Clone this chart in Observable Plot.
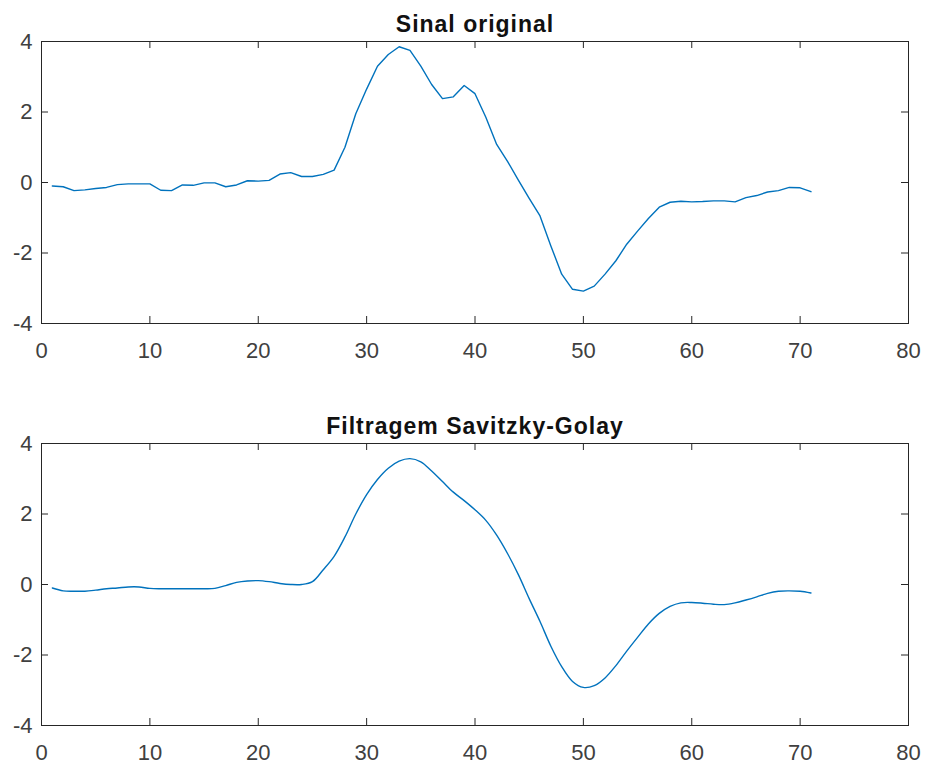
<!DOCTYPE html>
<html>
<head>
<meta charset="utf-8">
<script src="https://cdn.jsdelivr.net/npm/d3@7"></script>
<script src="https://cdn.jsdelivr.net/npm/@observablehq/plot@0.6"></script>
<style>
  html, body { margin: 0; padding: 0; background: #fff; }
  #chart svg { display: block; }
</style>
</head>
<body>
<div id="chart"></div>
<script>
// ---- data ----
const titles = ["Sinal original", "Filtragem Savitzky-Golay"];
const xTicks = [0, 10, 20, 30, 40, 50, 60, 70, 80];
const yTicks = [-4, -2, 0, 2, 4];

const sinalOriginal = [
  -0.10, -0.12, -0.23, -0.21, -0.17, -0.14, -0.06, -0.04, -0.04, -0.04,
  -0.22, -0.23, -0.07, -0.08, -0.01, -0.01, -0.12, -0.07, 0.05, 0.04,
  0.06, 0.24, 0.28, 0.17, 0.17, 0.23, 0.35, 1.00, 1.95, 2.65,
  3.30, 3.63, 3.85, 3.75, 3.30, 2.78, 2.38, 2.43, 2.75, 2.52,
  1.85, 1.08, 0.60, 0.07, -0.45, -0.95, -1.80, -2.60, -3.03, -3.08,
  -2.94, -2.60, -2.22, -1.75, -1.38, -1.02, -0.70, -0.56, -0.53, -0.55,
  -0.54, -0.52, -0.52, -0.55, -0.43, -0.37, -0.27, -0.23, -0.14, -0.15, -0.26
];

const sinalFiltrado = [
  -0.10, -0.18, -0.19, -0.19, -0.16, -0.12, -0.10, -0.07, -0.07, -0.11,
  -0.12, -0.12, -0.12, -0.12, -0.12, -0.11, -0.03, 0.06, 0.10, 0.11,
  0.08, 0.03, 0.00, 0.00, 0.08, 0.42, 0.80, 1.35, 2.00, 2.55,
  2.98, 3.30, 3.50, 3.57, 3.48, 3.22, 2.92, 2.62, 2.38, 2.12,
  1.82, 1.40, 0.88, 0.28, -0.40, -1.05, -1.75, -2.33, -2.75, -2.92,
  -2.87, -2.65, -2.30, -1.89, -1.50, -1.12, -0.82, -0.62, -0.52, -0.51,
  -0.53, -0.56, -0.57, -0.52, -0.44, -0.35, -0.25, -0.19, -0.18, -0.19, -0.24
];

// ---- layout / style ----
const W = 927;
const lineColor = "#0072BD";
const axisColor = "#262626";
const tickLen = 7;
const fontFamily = "'Liberation Sans', Arial, Helvetica, sans-serif";

function panel(values, title, {height, marginTop, marginBottom, curve}) {
  const marginLeft = 41, marginRight = 19;
  const fw = W - marginLeft - marginRight;
  const fh = height - marginTop - marginBottom;
  const data = values.map((v, i) => ({x: i + 1, y: v}));
  const svg = Plot.plot({
    width: W,
    height,
    marginTop, marginBottom, marginLeft, marginRight,
    style: {fontFamily, fontSize: "22px", color: "#404040", background: "#fff", overflow: "visible"},
    x: {domain: [0, 80], ticks: xTicks},
    y: {domain: [-4, 4], ticks: yTicks},
    marks: [
      Plot.frame({stroke: axisColor, strokeWidth: 1}),
      // inward ticks on all four sides
      Plot.tickX(xTicks, {x: d => d, insetTop: fh - tickLen, stroke: axisColor}),
      Plot.tickX(xTicks, {x: d => d, insetBottom: fh - tickLen, stroke: axisColor}),
      Plot.tickY(yTicks, {y: d => d, insetRight: fw - tickLen, stroke: axisColor}),
      Plot.tickY(yTicks, {y: d => d, insetLeft: fw - tickLen, stroke: axisColor}),
      Plot.axisX({ticks: xTicks, tickSize: 0, tickPadding: 19, tickFormat: d => String(d), label: null}),
      Plot.axisY({ticks: yTicks, tickSize: 0, tickPadding: 9, tickFormat: d => String(d), label: null}),
      Plot.line(data, {x: "x", y: "y", stroke: lineColor, strokeWidth: 1.4, curve}),
      Plot.text([title], {
        text: d => d, frameAnchor: "top", lineAnchor: "bottom", dy: -10,
        fontWeight: "bold", fontSize: 23, fill: "#111"
      })
    ]
  });
  d3.select(svg).selectAll("g[aria-label='text'] text").attr("letter-spacing", "1px");
  return svg;
}

const root = document.getElementById("chart");
root.appendChild(panel(sinalOriginal, titles[0], {height: 383, marginTop: 41, marginBottom: 60, curve: "linear"}));
root.appendChild(panel(sinalFiltrado, titles[1], {height: 382, marginTop: 60, marginBottom: 40, curve: "catmull-rom"}));
</script>
</body>
</html>
